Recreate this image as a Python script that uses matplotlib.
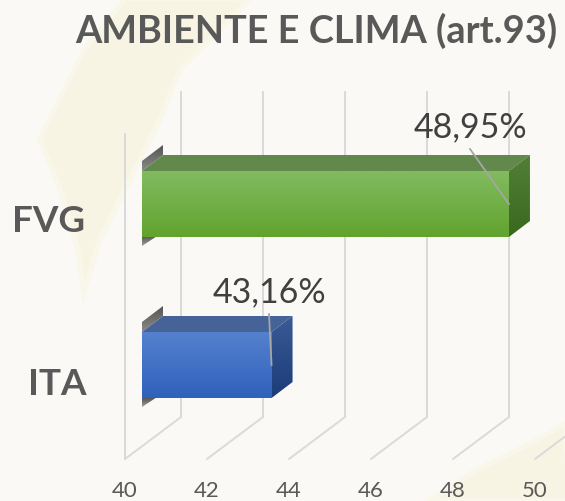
import numpy as np
import matplotlib
matplotlib.use('Agg')
from matplotlib import pyplot as plt
from matplotlib.patches import Polygon

categories = ['FVG', 'ITA']
values = [48.95, 43.16]
value_labels = ['48,95%', '43,16%']
tick_values = [40, 42, 44, 46, 48, 50]
title = 'AMBIENTE E CLIMA (art.93)'

# one value unit is 41 px, y stays in pixels so the fake 3d is easy to place
PX = 41.0
X0 = 125
dx_floor = 56 / PX
dy_floor = 42
dx_bar = 21 / PX
dy_bar = 16
# bars sit 17 px in front of the axis plane
bar_shift = 17 / PX
bar_top = [172, 333]
bar_h = 66
label_xy = [(470, 127), (269, 292)]
leader_y = [(150, 205), (315, 366)]
cat_xy = [(49, 222), (57, 385)]

colors_front = [('#82BB60', '#62A32E'), ('#5580CE', '#2F62BC')]
colors_side = [('#527F38', '#38691D'), ('#3A5A96', '#1B3C78')]
colors_top = ['#63884C', '#466398']

plt.rcParams['font.family'] = ['Lato', 'DejaVu Sans']

fig = plt.figure(figsize=(5.65, 5.02), dpi=100)
fig.patch.set_facecolor('#FBF9F5')
ax = fig.add_axes([0, 0, 1, 1])
ax.axis('off')


def xp(px):
  return 40 + (px - X0) / PX


def shaded(pts, top, bottom, zorder):
  # vertical gradient clipped to a polygon
  poly = Polygon(pts, closed=True, facecolor='none', edgecolor='none', zorder=zorder)
  ax.add_patch(poly)
  xs = [p[0] for p in pts]
  ys = [p[1] for p in pts]
  cmap = matplotlib.colors.LinearSegmentedColormap.from_list('g', [top, bottom])
  im = ax.imshow(np.linspace(0, 1, 64).reshape(-1, 1), cmap=cmap, aspect='auto', zorder=zorder,
                 extent=(min(xs), max(xs), max(ys), min(ys)), interpolation='bilinear')
  im.set_clip_path(poly)


# background leaf shapes
leaf = [(xp(125), 0), (xp(250), 0), (xp(180), 70), (xp(160), 120), (xp(130), 180), (xp(100), 240),
        (xp(84), 292), (xp(78), 250), (xp(60), 190), (xp(40), 140), (xp(85), 50)]
ax.add_patch(Polygon(leaf, closed=True, facecolor='#F8F4E3', edgecolor='#F9F6EA', lw=4, zorder=0))
corner = [(xp(430), 502), (xp(475), 472), (xp(530), 445), (xp(565), 425), (xp(570), 502)]
ax.add_patch(Polygon(corner, closed=True, facecolor='#F8F4E3', edgecolor='#F9F6EA', lw=4, zorder=0))

# grid walls and floor
grid_c = '#DADADA'
for t in tick_values:
  ax.plot([t, t + dx_floor], [460, 418], color=grid_c, lw=1.4, zorder=1, solid_capstyle='round')
  ax.plot([t + dx_floor, t + dx_floor], [418, 93], color=grid_c, lw=1.4, zorder=1)
ax.plot([40, 40], [460, 135], color=grid_c, lw=1.4, zorder=1)

for i, v in enumerate(values):
  top = bar_top[i]
  bot = top + bar_h
  x0 = 40 + bar_shift
  x1 = v + bar_shift
  # dark shadow at the bar root
  shaded([(x0, top), (x0 + dx_bar, top - dy_bar), (x0 + dx_bar, top - dy_bar - 10), (x0, top - 10)],
         '#555555', '#8A8A88', 2)
  shaded([(x0, bot), (x0 + dx_bar * .65, bot), (x0, bot + 9)], '#555555', '#A0A09C', 2)
  # top, side, front faces
  ax.add_patch(Polygon([(x0, top), (x0 + dx_bar, top - dy_bar), (x1 + dx_bar, top - dy_bar), (x1, top)],
                       closed=True, facecolor=colors_top[i], edgecolor='none', zorder=3))
  shaded([(x1, top), (x1 + dx_bar, top - dy_bar), (x1 + dx_bar, bot - dy_bar), (x1, bot)],
         colors_side[i][0], colors_side[i][1], 3)
  shaded([(x0, top), (x1, top), (x1, bot), (x0, bot)], colors_front[i][0], colors_front[i][1], 4)
  # leader line and label
  ax.plot([xp(label_xy[i][0]), x1], leader_y[i], color='#A6A6A6', lw=1.3, zorder=5)
  ax.text(xp(label_xy[i][0]), label_xy[i][1], value_labels[i], fontsize=24.5, color='#404040',
          ha='center', va='center', zorder=6)
  ax.text(xp(cat_xy[i][0]), cat_xy[i][1], categories[i], fontsize=26.5, fontweight='bold', color='#595959',
          ha='center', va='center', zorder=6)

for t in tick_values:
  ax.text(t, 491, str(t), fontsize=16, color='#595959', ha='center', va='center', zorder=6)

ax.text(xp(316), 31, title, fontsize=27.3, fontweight='bold', color='#595959', ha='center', va='center', zorder=6)

ax.set_xlim(40 - X0 / PX, 40 + (565 - X0) / PX)
ax.set_ylim(502, 0)

fig.savefig('out.png', dpi=100, facecolor=fig.get_facecolor())
